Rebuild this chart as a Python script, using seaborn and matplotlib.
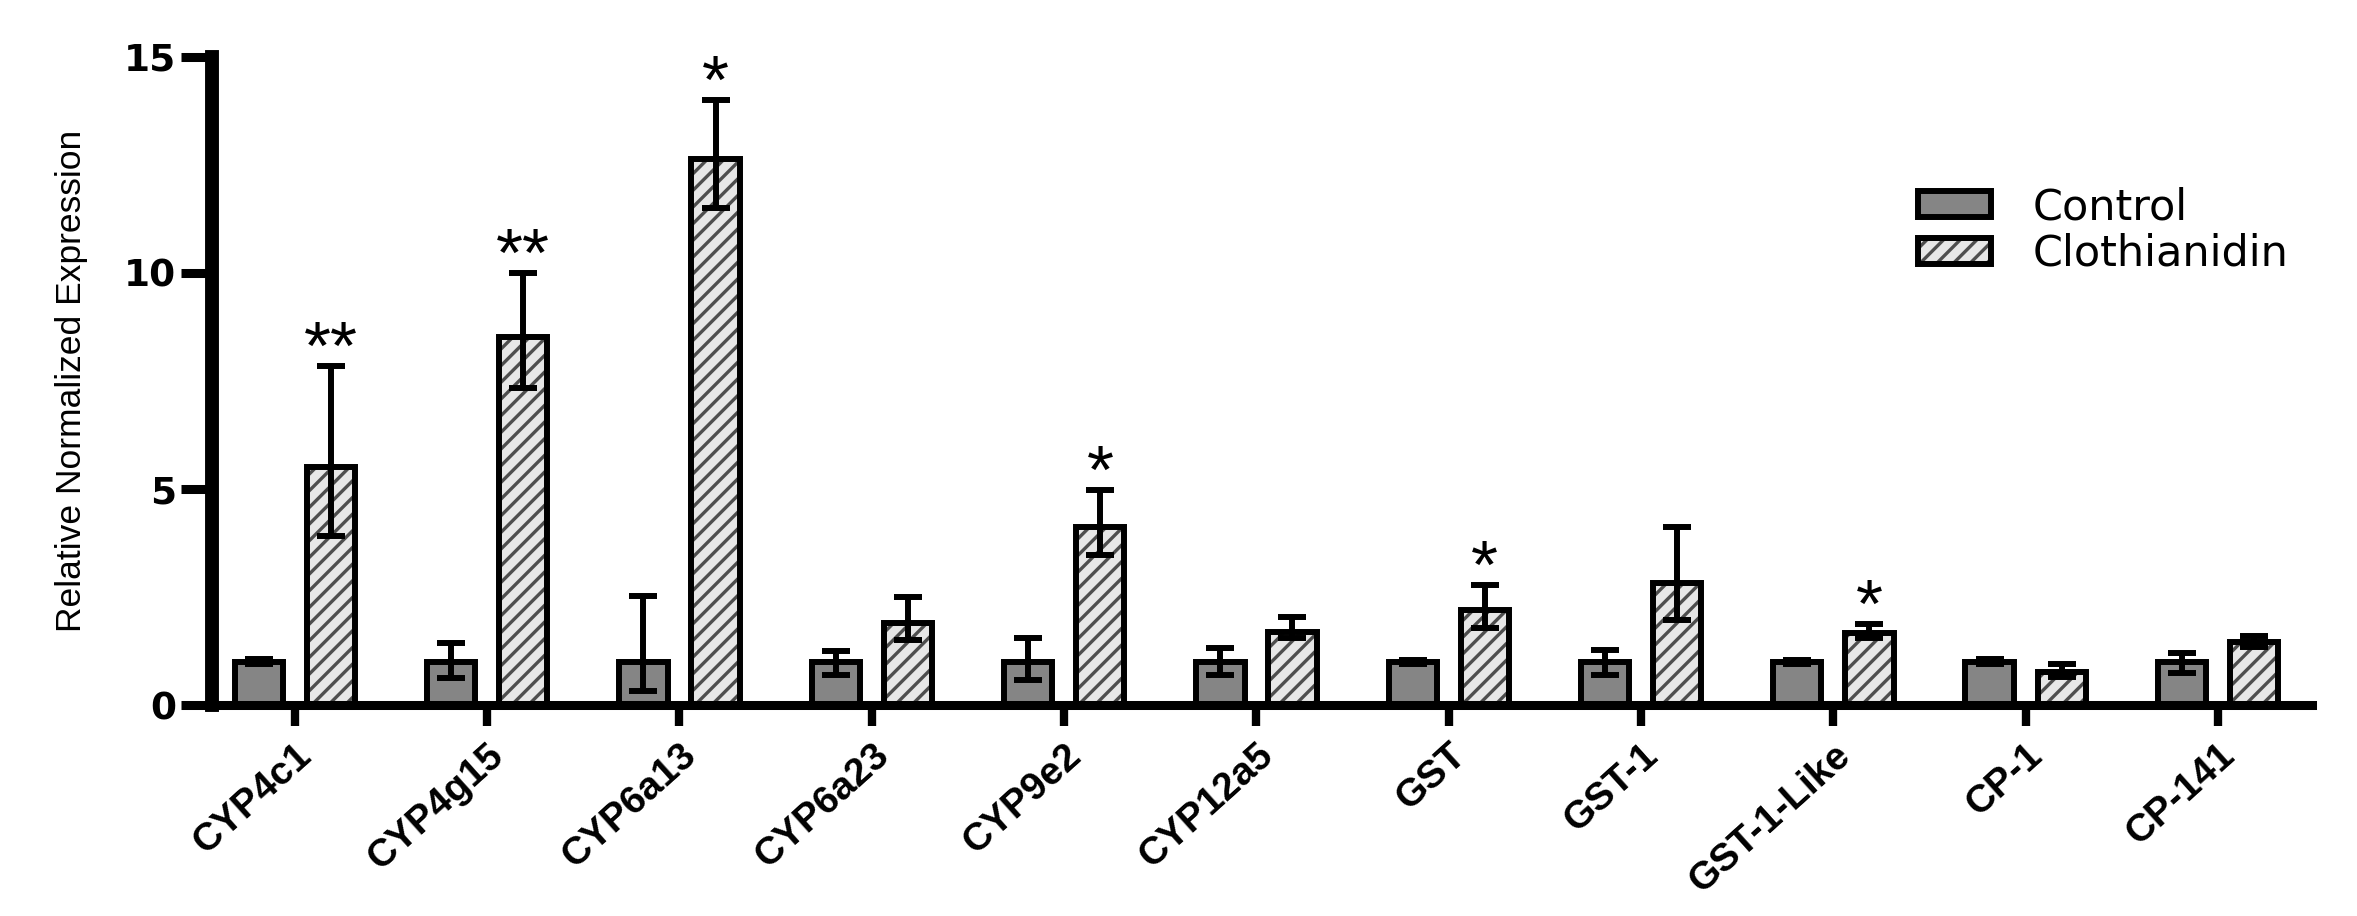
import pandas as pd
import matplotlib.pyplot as plt
import seaborn as sns
from matplotlib.patches import Patch, Rectangle

# data
genes = ["CYP4c1", "CYP4g15", "CYP6a13", "CYP6a23", "CYP9e2", "CYP12a5",
         "GST", "GST-1", "GST-1-Like", "CP-1", "CP-141"]
control = [1.0, 1.0, 1.0, 1.0, 1.0, 1.0, 1.0, 1.0, 1.0, 1.0, 1.0]
control_lo = [0.94, 0.62, 0.32, 0.70, 0.58, 0.69, 0.95, 0.69, 0.95, 0.95, 0.74]
control_hi = [1.07, 1.43, 2.52, 1.25, 1.55, 1.32, 1.04, 1.27, 1.04, 1.06, 1.20]
cloth = [5.52, 8.53, 12.64, 1.90, 4.13, 1.70, 2.20, 2.83, 1.66, 0.77, 1.46]
cloth_lo = [3.91, 7.33, 11.50, 1.50, 3.47, 1.55, 1.78, 1.97, 1.55, 0.66, 1.35]
cloth_hi = [7.85, 10.00, 14.00, 2.50, 4.98, 2.04, 2.78, 4.13, 1.87, 0.95, 1.60]
signif = ["**", "**", "*", "", "*", "", "*", "", "*", "", ""]
groups = ["Control", "Clothianidin"]

df = pd.DataFrame({
    "gene": genes * 2,
    "group": [groups[0]] * len(genes) + [groups[1]] * len(genes),
    "value": control + cloth,
})

sns.set_style("ticks")
plt.rcParams["font.family"] = ["Liberation Sans", "DejaVu Sans"]
plt.rcParams["hatch.linewidth"] = 2.4
plt.rcParams["axes.edgecolor"] = "black"
plt.rcParams["xtick.color"] = "black"
plt.rcParams["ytick.color"] = "black"
plt.rcParams["text.color"] = "black"
plt.rcParams["axes.labelcolor"] = "black"

GRAY = "#858585"
LIGHT = "#e6e6e6"
HATCH = "#4d4d4d"
LW = 4.3

fig = plt.figure(figsize=(23.57, 9.16), dpi=100)
ax = fig.add_axes([0.090, 0.2303, 0.891, 0.7075])

sns.barplot(data=df, x="gene", y="value", hue="group", hue_order=groups,
            palette=[GRAY, LIGHT], width=0.75, gap=0.33, errorbar=None,
            edgecolor="black", linewidth=LW, legend=False, ax=ax)

# hatch the clothianidin bars, keep a black outline on top
for bar in ax.containers[1]:
    bar.set_hatch("//")
    bar.set_edgecolor(HATCH)
    bar.set_linewidth(0)
    ax.add_patch(Rectangle(bar.get_xy(), bar.get_width(), bar.get_height(),
                           fill=False, edgecolor="black", lw=LW,
                           zorder=bar.get_zorder() + 0.1))

# asymmetric error bars
for cont, means, los, his in [(ax.containers[0], control, control_lo, control_hi),
                              (ax.containers[1], cloth, cloth_lo, cloth_hi)]:
    xs = [b.get_x() + b.get_width() / 2 for b in cont]
    lower = [m - l for m, l in zip(means, los)]
    upper = [h - m for m, h in zip(means, his)]
    ax.errorbar(xs, means, yerr=[lower, upper], fmt="none", ecolor="black",
                elinewidth=LW, capsize=10, capthick=LW, zorder=5)

# significance stars
for bar, hi, s in zip(ax.containers[1], cloth_hi, signif):
    if s:
        ax.annotate(s, (bar.get_x() + bar.get_width() / 2, hi),
                    xytext=(0, -2), textcoords="offset points",
                    ha="center", va="baseline", fontsize=50)

ax.set_xlim(-0.43, 10.49)
ax.set_ylim(0, 15)
ax.set_yticks([0, 5, 10, 15])
sns.despine(ax=ax)
ax.spines["left"].set_linewidth(10)
ax.spines["bottom"].set_linewidth(6.5)
ax.tick_params(axis="y", length=22, width=6.5, pad=4)
ax.tick_params(axis="x", length=15, width=6, pad=8)
for lab in ax.get_yticklabels():
    lab.set_fontsize(27)
    lab.set_fontweight("heavy")
    lab.set_family("DejaVu Sans")
ax.set_xticks(range(len(genes)))
ax.set_xticklabels(genes, rotation=42, ha="right", rotation_mode="anchor",
                   fontsize=28, fontweight="bold")
ax.set_xlabel("")
ax.set_ylabel("Relative Normalized Expression", fontsize=25.5, labelpad=26)

h1 = Patch(facecolor=GRAY, edgecolor="black", lw=LW)
h2a = Patch(facecolor=LIGHT, edgecolor=HATCH, hatch="//", lw=0)
h2b = Patch(facecolor="none", edgecolor="black", lw=LW)
ax.legend([h1, (h2a, h2b)], groups, loc="upper left",
          bbox_to_anchor=(0.8124, 0.80), frameon=False,
          prop={"family": "DejaVu Sans", "size": 31},
          borderpad=0, borderaxespad=0,
          handlelength=1.7, handleheight=0.55, handletextpad=0.95,
          labelspacing=0.1)

fig.savefig("out.png", dpi=100)
